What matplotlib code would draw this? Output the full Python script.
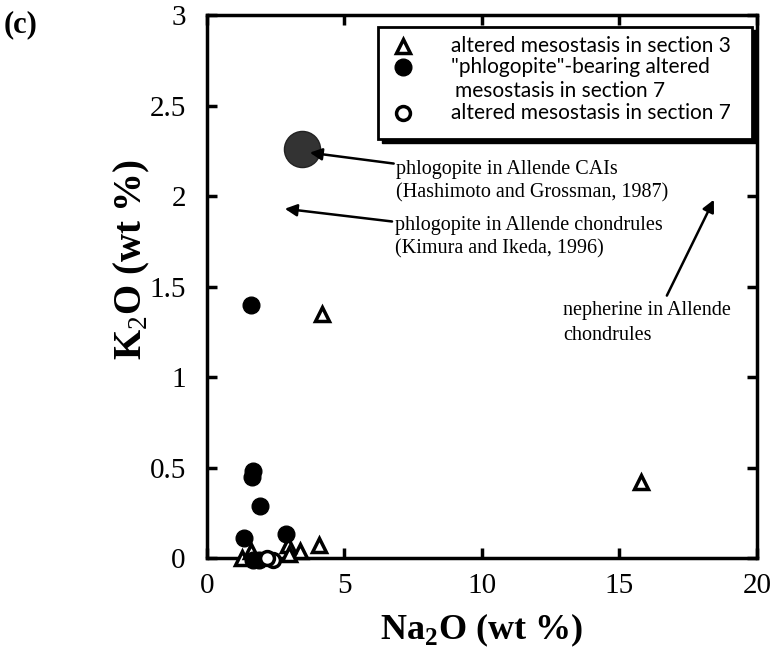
import matplotlib
matplotlib.use("Agg")
import matplotlib.pyplot as plt
from matplotlib.patches import Rectangle

plt.rcParams['mathtext.fontset'] = 'custom'
plt.rcParams['mathtext.rm'] = 'Liberation Serif'
plt.rcParams['mathtext.bf'] = 'Liberation Serif:bold'

# Data (wt %)
tri_na = [4.2, 15.8, 4.1, 3.4, 2.95, 3.0, 1.27, 1.6]
tri_k = [1.35, 0.42, 0.07, 0.04, 0.07, 0.02, 0.0, 0.04]

fill_na = [1.6, 1.7, 1.65, 1.95, 1.35, 2.9, 1.9, 1.7]
fill_k = [1.40, 0.48, 0.45, 0.29, 0.11, 0.13, -0.01, -0.01]

open_na = [2.4, 2.2]
open_k = [-0.01, 0.0]

cai_na = [3.45]
cai_k = [2.26]

legend_labels = ["altered mesostasis in section 3",
                 "\"phlogopite\"-bearing altered",
                 "mesostasis in section 7",
                 "altered mesostasis in section 7"]

xticks = [0, 5, 10, 15, 20]
yticks = [0, 0.5, 1, 1.5, 2, 2.5, 3]
ytick_labels = ["0", "0.5", "1", "1.5", "2", "2.5", "3"]

serif = ["Liberation Serif", "DejaVu Serif"]
sans = ["Lato", "DejaVu Sans"]

fig = plt.figure(figsize=(7.77, 6.58), dpi=100)
ax = fig.add_axes([0.266, 0.152, 0.708, 0.825])
ax.set_xlim(0, 20)
ax.set_ylim(0, 3)

ax.plot(cai_na, cai_k, 'o', ms=26, color='#333333', mec='#222222', clip_on=False, zorder=3)
ax.plot(tri_na, tri_k, '^', ms=10, mfc='white', mec='black', mew=2.5, ls='none', clip_on=False, zorder=4)
ax.plot(fill_na, fill_k, 'o', ms=12, color='black', ls='none', clip_on=False, zorder=4)
ax.plot(open_na, open_k, 'o', ms=10, mfc='white', mec='black', mew=2.5, ls='none', clip_on=False, zorder=5)

for s in ax.spines.values():
    s.set_linewidth(2.5)
ax.set_xticks(xticks)
ax.set_yticks(yticks)
ax.set_yticklabels(ytick_labels)
ax.tick_params(direction='in', length=7, width=2.5, top=True, right=True,
               labelsize=21)
ax.tick_params(axis='y', pad=15)
ax.tick_params(axis='x', pad=11)
for lab in ax.get_xticklabels() + ax.get_yticklabels():
    lab.set_family(serif)

ax.set_xlabel("Na$_\\mathbf{2}$O (wt %)", fontsize=26, fontweight='bold', family=serif)
ax.xaxis.set_label_coords(0.5, -0.098)
ax.set_ylabel("K$_\\mathrm{2}$O (wt %)", fontsize=28, fontweight='bold', family=serif)
ax.yaxis.set_label_coords(-0.10, 0.55)
fig.text(0.005, 0.963, "(c)", fontsize=22, fontweight='bold', family=serif, va='center')

# Legend box (manual)
tr = ax.transAxes
shadow = Rectangle((0.318, 0.765), 0.68, 0.207, transform=tr, facecolor='black', edgecolor='black', zorder=6)
box = Rectangle((0.311, 0.772), 0.68, 0.207, transform=tr, facecolor='white', edgecolor='black', lw=2, zorder=7)
ax.add_patch(shadow)
ax.add_patch(box)
lx = 0.357
tx = 0.445
rows = [0.944, 0.904, 0.860, 0.820]
ax.plot([lx], [rows[0]], '^', ms=10, mfc='white', mec='black', mew=2.5, transform=tr, zorder=8)
ax.plot([lx], [rows[1]], 'o', ms=12, color='black', transform=tr, zorder=8)
ax.plot([lx], [rows[3]], 'o', ms=10, mfc='white', mec='black', mew=2.5, transform=tr, zorder=8)
for r, lab in zip(rows, legend_labels):
    ax.text(tx if lab != legend_labels[2] else tx + 0.007, r, lab, transform=tr, fontsize=15,
            family=sans, va='center', ha='left', zorder=8)

# Annotations
arrow = dict(arrowstyle='-|>', color='black', lw=1.8, mutation_scale=18, shrinkA=0, shrinkB=0)
ax.annotate("phlogopite in Allende CAIs\n(Hashimoto and Grossman, 1987)",
            xy=(3.75, 2.24), xytext=(6.9, 2.08), fontsize=14.5, family=serif,
            va='center', ha='left', linespacing=1.3, arrowprops=arrow)
ax.annotate("phlogopite in Allende chondrules\n(Kimura and Ikeda, 1996)",
            xy=(2.84, 1.93), xytext=(6.84, 1.77), fontsize=14.5, family=serif,
            va='center', ha='left', linespacing=1.3, arrowprops=arrow)
ax.annotate("", xy=(18.44, 1.98), xytext=(16.73, 1.45), arrowprops=arrow)
ax.text(12.95, 1.30, "nepherine in Allende\nchondrules", fontsize=14.5, family=serif,
        va='center', ha='left', linespacing=1.45)

fig.savefig("out.png", dpi=100)
